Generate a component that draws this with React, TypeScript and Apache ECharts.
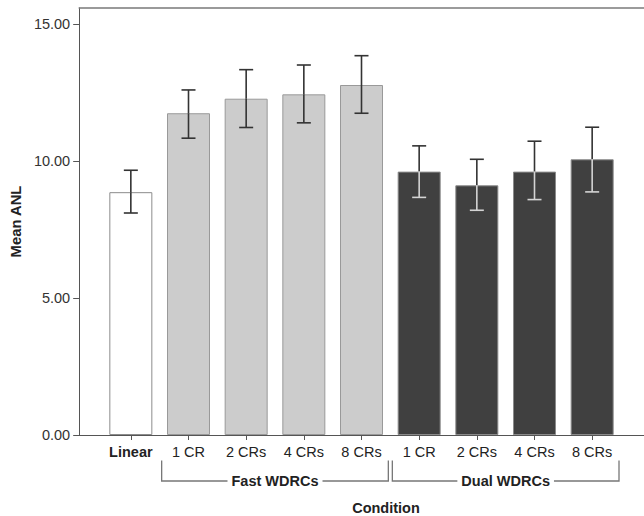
import React, { useEffect, useRef } from "react";
import * as echarts from "echarts";

const categories = ["Linear", "1 CR", "2 CRs", "4 CRs", "8 CRs", "1 CR", "2 CRs", "4 CRs", "8 CRs"];
const conditionGroup = ["Linear", "Fast", "Fast", "Fast", "Fast", "Dual", "Dual", "Dual", "Dual"];
const meanANL = [8.86, 11.74, 12.27, 12.43, 12.77, 9.61, 9.11, 9.61, 10.06];
const upperCI = [9.66, 12.59, 13.33, 13.5, 13.84, 10.55, 10.06, 10.72, 11.23];
const lowerCI = [8.1, 10.83, 11.22, 11.39, 11.74, 8.67, 8.2, 8.59, 8.87];
const yTicks = [0, 5, 10, 15];
const groupLabels = ["Fast WDRCs", "Dual WDRCs"];
const groupStart = [1, 5];
const groupEnd = [4, 8];

const FONT = "'Liberation Sans', Arial, Helvetica, sans-serif";
const FS = 14.5;
const Y_MAX = 15.58;

const fillFor: Record<string, string> = { Linear: "#ffffff", Fast: "#cccccc", Dual: "#404040" };
const borderFor: Record<string, string> = { Linear: "#8c8c8c", Fast: "#999999", Dual: "#8a8a8a" };

export default function App() {
  const ref = useRef<HTMLDivElement>(null);
  useEffect(() => {
    if (!ref.current) return;
    const chart = echarts.init(ref.current, undefined, { renderer: "svg" });
    const option: any = {
      animation: false,
      backgroundColor: "#ffffff",
      textStyle: { fontFamily: FONT },
      grid: [
        { left: 74, top: 8, width: 570, height: 427 },
        { left: 102, top: 8, width: 519, height: 427 },
      ],
      xAxis: [
        {
          type: "value", gridIndex: 0, min: 0, max: 1, position: "bottom",
          axisLine: { show: true, lineStyle: { color: "#555", width: 1 } },
          axisTick: { show: false }, axisLabel: { show: false }, splitLine: { show: false },
        },
        {
          type: "value", gridIndex: 0, min: 0, max: 1, position: "top",
          axisLine: { show: true, lineStyle: { color: "#7a7a7a", width: 1.5 } },
          axisTick: { show: false }, axisLabel: { show: false }, splitLine: { show: false },
        },
        {
          type: "category", gridIndex: 1, data: categories,
          axisLine: { show: false },
          axisTick: { show: true, alignWithLabel: true, length: 5, lineStyle: { color: "#555" } },
          axisLabel: {
            margin: 9, color: "#222", fontSize: FS, fontFamily: FONT, interval: 0,
            formatter: (v: string, i: number) => (conditionGroup[i] === "Linear" ? `{b|${v}}` : v),
            rich: { b: { fontWeight: "bold", fontSize: FS, fontFamily: FONT, color: "#222" } },
          },
        },
      ],
      yAxis: [
        {
          type: "value", gridIndex: 0, min: 0, max: Y_MAX,
          name: "Mean ANL", nameLocation: "middle", nameGap: 48,
          nameTextStyle: { fontWeight: "bold", fontSize: 14.8, color: "#222", fontFamily: FONT },
          axisLine: { show: true, lineStyle: { color: "#555", width: 1 } },
          axisTick: { show: true, length: 6, customValues: yTicks, lineStyle: { color: "#555" } },
          axisLabel: {
            customValues: yTicks, margin: 9, color: "#333", fontSize: FS, fontFamily: FONT,
            formatter: (v: number) => v.toFixed(2),
          },
          splitLine: { show: false },
        },
        {
          type: "value", gridIndex: 1, min: 0, max: Y_MAX, show: false,
          splitLine: { show: false },
        },
      ],
      series: [
        {
          type: "bar", xAxisIndex: 2, yAxisIndex: 1, barWidth: 43,
          data: meanANL.map((v, i) => ({
            value: v,
            itemStyle: { color: fillFor[conditionGroup[i]], borderColor: borderFor[conditionGroup[i]], borderWidth: 1 },
          })),
        },
        {
          type: "custom", xAxisIndex: 2, yAxisIndex: 1,
          encode: { x: 0, y: 1 },
          data: meanANL.map((v, i) => [i, v, lowerCI[i], upperCI[i], conditionGroup[i] === "Dual" ? 1 : 0]),
          renderItem: (params: any, api: any) => {
            const i = api.value(0);
            const pHi = api.coord([i, api.value(3)]);
            const pM = api.coord([i, api.value(1)]);
            const pLo = api.coord([i, api.value(2)]);
            const x = pHi[0];
            const cap = 7;
            const darkC = "#333333";
            const innerC = api.value(4) ? "#d4d4d4" : darkC;
            const lw = 1.6;
            return {
              type: "group",
              children: [
                { type: "line", shape: { x1: x, y1: pHi[1], x2: x, y2: pM[1] }, style: { stroke: darkC, lineWidth: lw } },
                { type: "line", shape: { x1: x, y1: pM[1], x2: x, y2: pLo[1] }, style: { stroke: innerC, lineWidth: lw } },
                { type: "line", shape: { x1: x - cap, y1: pHi[1], x2: x + cap, y2: pHi[1] }, style: { stroke: darkC, lineWidth: lw } },
                { type: "line", shape: { x1: x - cap, y1: pLo[1], x2: x + cap, y2: pLo[1] }, style: { stroke: innerC, lineWidth: lw } },
              ],
            };
          },
          z: 5,
        },
        {
          type: "custom", xAxisIndex: 2, yAxisIndex: 1, clip: false,
          encode: { x: 0, y: 1 },
          data: groupLabels.map((g, k) => [groupStart[k], 0, groupEnd[k], k]),
          renderItem: (params: any, api: any) => {
            const s = api.value(0);
            const e = api.value(2);
            const k = api.value(3);
            const w = api.size([1, 0])[0];
            const p0 = api.coord([s, 0]);
            const p1 = api.coord([e, 0]);
            const x0 = p0[0] - w / 2 + 2;
            const x1 = p1[0] + w / 2 - 2;
            const yTop = p0[1] + 25.5;
            const yBot = p0[1] + 46;
            const c = "#777";
            return {
              type: "group",
              children: [
                { type: "polyline", shape: { points: [[x0, yTop], [x0, yBot], [x1, yBot], [x1, yTop]] }, style: { stroke: c, lineWidth: 1.3, fill: "none" } },
                {
                  type: "text",
                  style: {
                    x: (x0 + x1) / 2, y: yBot, text: groupLabels[k], align: "center", verticalAlign: "middle",
                    font: `bold ${FS}px ${FONT}`, fill: "#222", backgroundColor: "#ffffff", padding: [0, 4],
                  },
                },
              ],
            };
          },
        },
      ],
      graphic: [
        {
          type: "text", x: 386, y: 508,
          style: { text: "Condition", align: "center", verticalAlign: "middle", font: `bold ${FS}px ${FONT}`, fill: "#222" },
        },
      ],
    };
    chart.setOption(option);
    return () => chart.dispose();
  }, []);
  return <div ref={ref} style={{ position: "fixed", left: 0, top: 0, width: 644, height: 516 }} />;
}
